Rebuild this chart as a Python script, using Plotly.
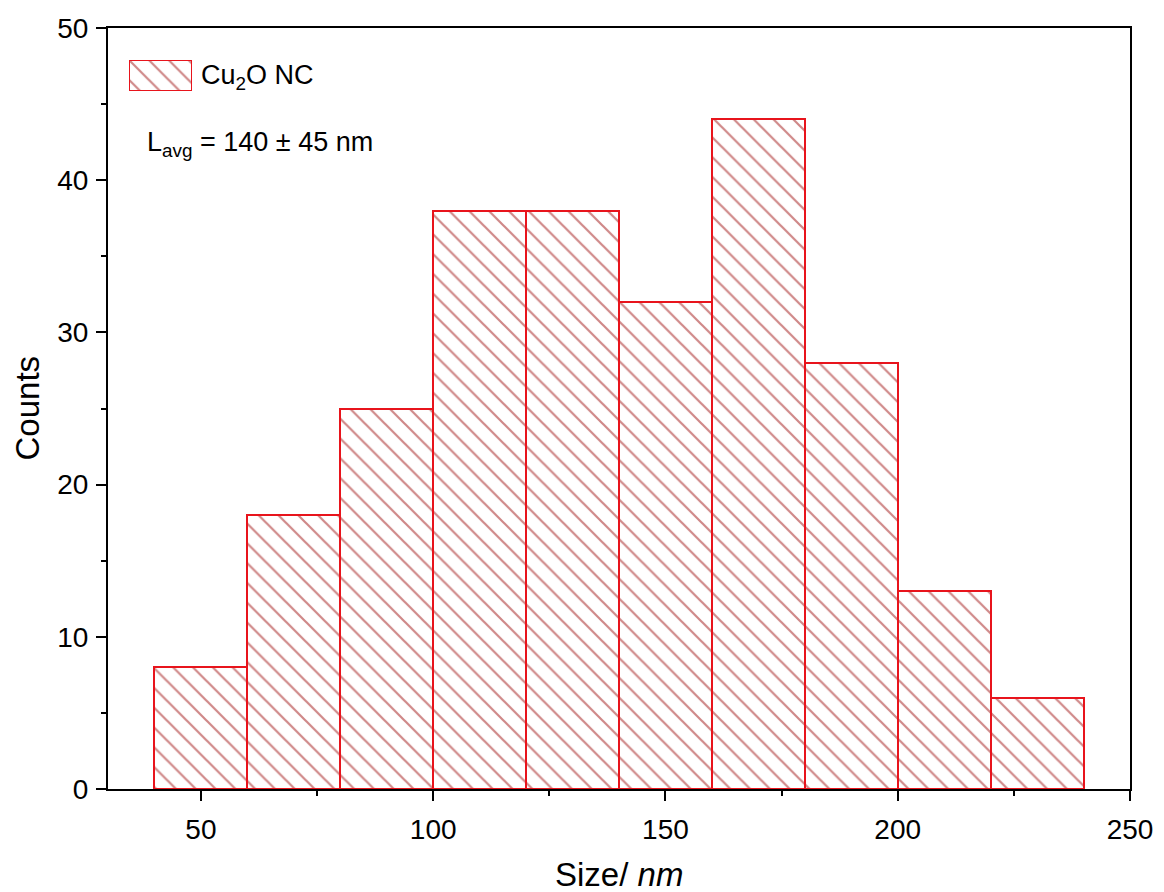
import plotly.graph_objects as go

# Histogram of nanocrystal sizes (bin edges in nm, counts per bin)
bin_left = [40, 60, 80, 100, 120, 140, 160, 180, 200, 220]
bin_width = 20
counts = [8, 18, 25, 38, 38, 32, 44, 28, 13, 6]
series_name = "Cu<sub>2</sub>O NC"
stat_text = "L<sub>avg</sub> = 140 ± 45 nm"

x_ticks = [50, 100, 150, 200, 250]
y_ticks = [0, 10, 20, 30, 40, 50]

RED = "#e8141c"
HATCH = dict(shape="\\", fgcolor="#a01212", bgcolor="white", size=14, solidity=0.16)
FONT = "Liberation Sans, Arial, sans-serif"

# plot-area geometry in pixels (used to place the free-floating labels)
L, R, T, B = 108, 1130, 28, 789
PW, PH = R - L, B - T


def px_x(px):
    return (px - L) / PW


def px_y(py):
    return (B - py) / PH


centers = [b + bin_width / 2 for b in bin_left]

fig = go.Figure()
fig.add_trace(go.Bar(
    x=centers, y=counts, width=bin_width,
    marker=dict(color="white", line=dict(color=RED, width=2), pattern=HATCH),
    showlegend=False, hoverinfo="skip",
))

# Legend swatch drawn as a hatched bar in a small inset axis
fig.add_trace(go.Bar(
    x=[0.5], y=[1], width=1, xaxis="x2", yaxis="y2",
    marker=dict(color="white", line=dict(color=RED, width=2), pattern=HATCH),
    showlegend=False, hoverinfo="skip",
))

axis_common = dict(
    showline=True, linecolor="black", linewidth=2, mirror=True,
    ticks="outside", ticklen=10, tickwidth=2, tickcolor="black",
    showgrid=False, zeroline=False,
    tickfont=dict(family=FONT, size=28, color="black"),
)

fig.update_layout(
    width=1164, height=892,
    margin=dict(l=L, r=1164 - R, t=T, b=892 - B),
    paper_bgcolor="white", plot_bgcolor="white",
    font=dict(family=FONT, color="black"),
    bargap=0,
    xaxis=dict(
        range=[30, 250], tickvals=x_ticks, **axis_common,
        minor=dict(dtick=25, tick0=0, ticks="outside", ticklen=5, tickwidth=2, tickcolor="black"),
        ticklabelstandoff=4,
    ),
    yaxis=dict(
        range=[0, 50], tickvals=y_ticks, **axis_common,
        minor=dict(dtick=5, tick0=0, ticks="outside", ticklen=5, tickwidth=2, tickcolor="black"),
        ticklabelstandoff=2,
    ),
    xaxis2=dict(domain=[px_x(129), px_x(192)], range=[0, 1], visible=False, anchor="y2"),
    yaxis2=dict(domain=[px_y(91), px_y(60)], range=[0, 1], visible=False, anchor="x2"),
)

# axis titles
fig.add_annotation(
    text="Size/ <i>nm</i>", xref="paper", yref="paper",
    x=0.5, y=px_y(874), xanchor="center", yanchor="middle", showarrow=False,
    font=dict(family=FONT, size=33, color="black"),
)
fig.add_annotation(
    text="Counts", xref="paper", yref="paper", textangle=-90,
    x=px_x(27), y=0.5, xanchor="center", yanchor="middle", showarrow=False,
    font=dict(family=FONT, size=33, color="black"),
)

# legend label and mean-size note
fig.add_annotation(
    text=series_name, xref="paper", yref="paper",
    x=px_x(199), y=px_y(77),
    xanchor="left", yanchor="middle", showarrow=False,
    font=dict(family=FONT, size=27, color="black"),
)
fig.add_annotation(
    text=stat_text, xref="paper", yref="paper",
    x=px_x(145), y=px_y(144),
    xanchor="left", yanchor="middle", showarrow=False,
    font=dict(family=FONT, size=27, color="black"),
)

fig.write_html("out.html")
